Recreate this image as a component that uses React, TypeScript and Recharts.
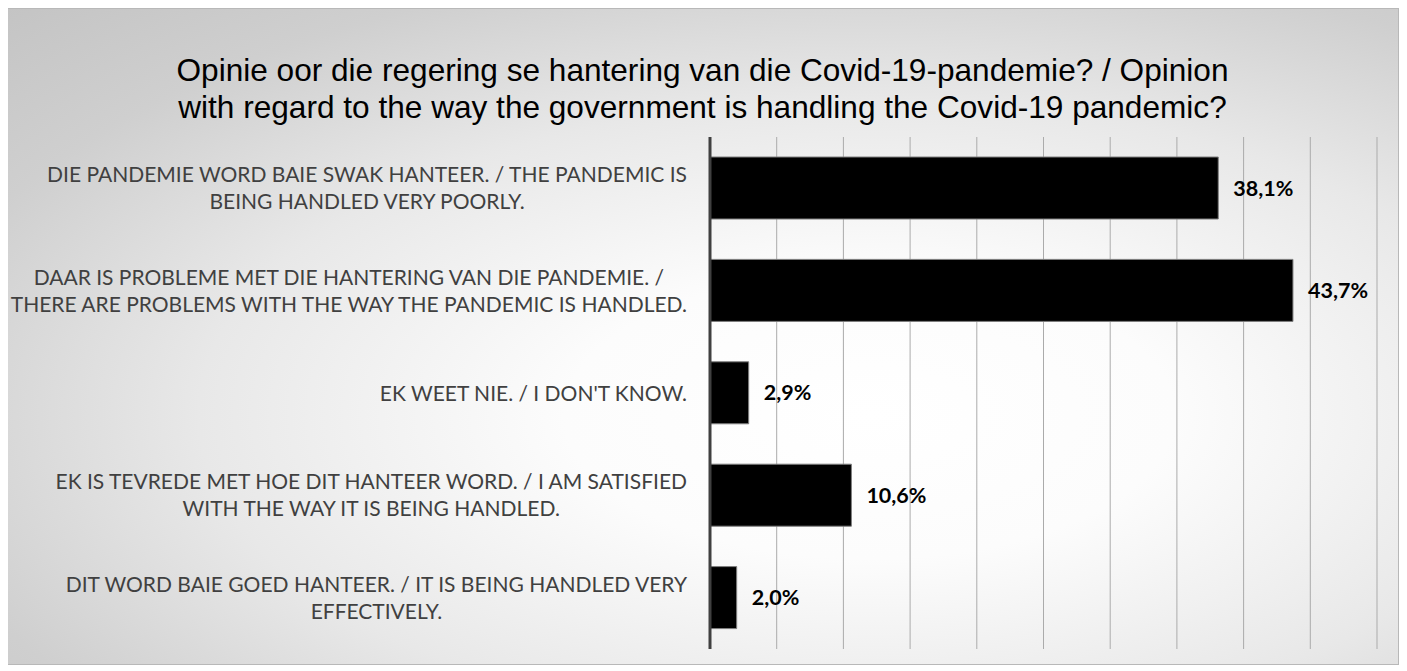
import React, { useLayoutEffect, useRef, useState } from 'react';
import { BarChart, Bar, XAxis, YAxis, CartesianGrid, LabelList } from 'recharts';

// Opinion on the government's handling of Covid-19 (share of respondents, %)
const categories = [
  'DIE PANDEMIE WORD BAIE SWAK HANTEER. / THE PANDEMIC IS\nBEING HANDLED VERY POORLY.',
  'DAAR IS PROBLEME MET DIE HANTERING VAN DIE PANDEMIE. /\nTHERE ARE PROBLEMS WITH THE WAY THE PANDEMIC IS HANDLED.',
  "EK WEET NIE. / I DON'T KNOW.",
  'EK IS TEVREDE MET HOE DIT HANTEER WORD. / I AM SATISFIED\nWITH THE WAY IT IS BEING HANDLED.',
  'DIT WORD BAIE GOED HANTEER. / IT IS BEING HANDLED VERY\nEFFECTIVELY.',
];
const shares = [38.1, 43.7, 2.9, 10.6, 2.0];
const xTicks = [0, 5, 10, 15, 20, 25, 30, 35, 40, 45, 50];

const title = [
  'Opinie oor die regering se hantering van die Covid-19-pandemie? / Opinion',
  'with regard to the way the government is handling the Covid-19 pandemic?',
];

const data = categories.map((name, i) => ({ name, value: shares[i] }));

const W = 1393;
const H = 657;
const LABEL_RIGHT = 680;
const LINE_H = 27;

const fmt = (v: number) => v.toFixed(1).replace('.', ',') + '%';

// multi-line category label, lines centred on each other, block right-aligned
const CategoryTick = (props: any) => {
  const { y, payload } = props;
  const lines = String(payload?.value ?? '').split('\n');
  const ref = useRef<SVGTextElement>(null);
  const [maxW, setMaxW] = useState(0);

  const measure = () => {
    if (!ref.current) return;
    let w = 0;
    ref.current.querySelectorAll('tspan').forEach((s) => {
      w = Math.max(w, (s as SVGTextContentElement).getComputedTextLength());
    });
    setMaxW((old) => (Math.abs(old - w) > 0.5 ? w : old));
  };

  useLayoutEffect(() => {
    measure();
    if ((document as any).fonts) (document as any).fonts.ready.then(measure);
  });

  const cx = LABEL_RIGHT - maxW / 2;
  const first = y - ((lines.length - 1) / 2) * LINE_H + 7.5;

  return (
    <text
      ref={ref}
      textAnchor="middle"
      fill="#404040"
      fontFamily="Lato, 'Open Sans', sans-serif"
      fontSize={21}
    >
      {lines.map((ln, i) => (
        <tspan key={i} x={cx} y={first + i * LINE_H}>
          {ln}
        </tspan>
      ))}
    </text>
  );
};

export default function App() {
  return (
    <div
      style={{
        position: 'relative',
        width: W,
        height: H,
        marginLeft: -2,
        border: '1px solid #b8b8b8',
        boxSizing: 'border-box',
        background:
          'radial-gradient(ellipse farthest-corner at 62% 62%, #ffffff 0%, #fcfcfc 25%, #e8e8e8 55%, #cfcfcf 80%, #c4c4c4 100%)',
      }}
    >
      <div
        style={{
          position: 'absolute',
          left: 0,
          right: 0,
          top: 43,
          textAlign: 'center',
          fontFamily: "'Liberation Sans', Arial, sans-serif",
          fontSize: 31.6,
          lineHeight: '37px',
          color: '#000',
        }}
      >
        {title.map((t) => (
          <div key={t}>{t}</div>
        ))}
      </div>
      <BarChart
        width={W}
        height={H}
        data={data}
        layout="vertical"
        margin={{ top: 128, right: 23, bottom: 17, left: 0 }}
        style={{ position: 'absolute', left: 0, top: 0 }}
      >
        <CartesianGrid horizontal={false} stroke="#ababab" strokeWidth={1} />
        <XAxis type="number" domain={[0, 50]} ticks={xTicks} hide />
        <YAxis
          type="category"
          dataKey="name"
          width={703}
          axisLine={{ stroke: '#404040', strokeWidth: 3 }}
          tickLine={false}
          tick={<CategoryTick />}
          interval={0}
        />
        <Bar
          dataKey="value"
          fill="#000000"
          stroke="#7f7f7f"
          strokeWidth={1}
          barSize={62}
          isAnimationActive={false}
        >
          <LabelList
            dataKey="value"
            position="right"
            offset={15}
            formatter={(v: any) => fmt(Number(v))}
            style={{
              fontFamily: "Lato, 'Open Sans', sans-serif",
              fontSize: 21.5,
              fontWeight: 700,
              fill: '#000',
            }}
          />
        </Bar>
      </BarChart>
    </div>
  );
}
